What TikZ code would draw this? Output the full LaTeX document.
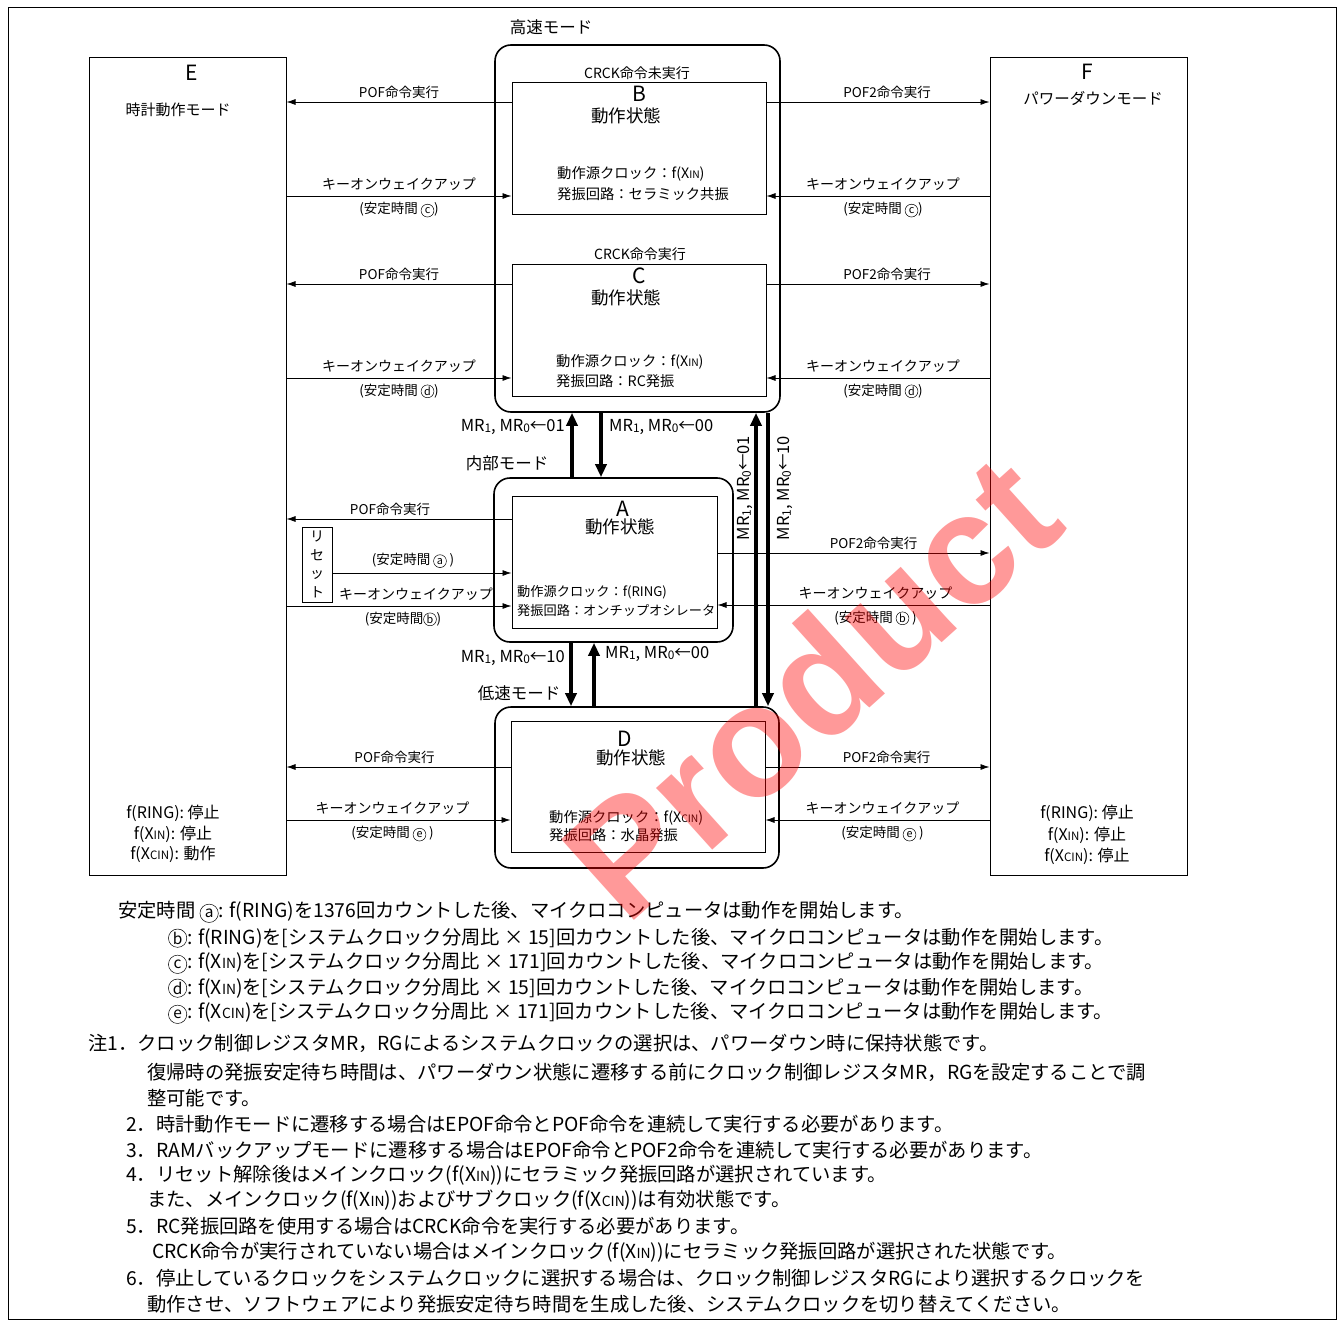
\documentclass[tikz,border=0pt]{standalone}
\usepackage{fontspec}
\setmainfont{Noto Sans CJK JP}
\newfontfamily\wmfont{Liberation Sans}
\usetikzlibrary{arrows.meta}

\newcommand\cir[1]{\tikz[baseline=(cc.base)]\node[draw, circle, line width=0.5pt,
  inner sep=0pt, minimum size=0.95em] (cc) {\scalebox{0.8}{#1}};}
\newcommand\smc[1]{\scalebox{0.72}{#1}}
\newcommand\subn[1]{\raisebox{-0.15ex}{\scalebox{0.72}{#1}}}
\newcommand\fsz[1]{\fontsize{#1}{#1}\selectfont}

\tikzset{
  statebox/.style={draw, line width=1pt, inner sep=0pt},
  modebox/.style={draw, line width=1.6pt, rounded corners=16pt, inner sep=0pt},
  thinarr/.style={-{Latex[length=9pt,width=6pt]}, line width=0.8pt},
  thickarr/.style={-{Triangle[length=13pt,width=11pt]}, line width=4.5pt},
  lbl/.style={font=\fsz{13.5}, inner sep=1pt},
  letter/.style={font=\fsz{21}, inner sep=0pt},
  headtxt/.style={font=\fsz{16.5}, inner sep=0pt},
  info/.style={font=\fsz{14.3}, inner sep=0pt, anchor=west},
  note/.style={font=\fsz{19.3}, inner sep=0pt, anchor=west},
}

\begin{document}
\begin{tikzpicture}[x=1pt, y=-1pt]
  \useasboundingbox (0,0) rectangle (1344,1327);
  \draw[line width=1pt] (8,8) rectangle (1336,1319);

  % Modi E und F
  \node[statebox, minimum width=197, minimum height=817] (E) at (187.5,466.5) {};
  \node[statebox, minimum width=197, minimum height=817] (F) at (1088.5,466.5) {};
  \node[letter] (Elbl) at (192,73) {E};
  \node[headtxt, font=\fsz{15}] (Etxt) at (178,110) {時計動作モード};
  \node[headtxt, align=center, font=\fontsize{16}{20.5}\selectfont] (Eclk) at (173,834)
    {f(RING): 停止\\f(X\smc{IN}): 停止\\f(X\smc{CIN}): 動作};
  \node[letter] (Flbl) at (1087,72) {F};
  \node[headtxt, font=\fsz{15.5}] (Ftxt) at (1093,98) {パワーダウンモード};
  \node[headtxt, align=center, font=\fontsize{16}{21.5}\selectfont] (Fclk) at (1087,835)
    {f(RING): 停止\\f(X\smc{IN}): 停止\\f(X\smc{CIN}): 停止};

  % Hochgeschwindigkeitsmodus
  \node[modebox, minimum width=285, minimum height=367] (HS) at (637.5,228.5) {};
  \node[headtxt] (HSlbl) at (551,27) {高速モード};
  \node[statebox, minimum width=254, minimum height=131] (B) at (639,148.5) {};
  \node[lbl, font=\fsz{14}] (Bcond) at (637,73) {CRCK命令未実行};
  \node[letter] (Blbl) at (639,94) {B};
  \node[headtxt, font=\fsz{17.5}] (Btxt) at (626,116) {動作状態};
  \node[info] (Bsrc) at (557,174) {動作源クロック：f(X\smc{IN})};
  \node[info] (Bosc) at (557,194) {発振回路：セラミック共振};

  \node[statebox, minimum width=254, minimum height=132] (C) at (639,330) {};
  \node[lbl, font=\fsz{14}] (Ccond) at (640,254) {CRCK命令実行};
  \node[letter] (Clbl) at (639,276) {C};
  \node[headtxt, font=\fsz{17.5}] (Ctxt) at (626,298) {動作状態};
  \node[info] (Csrc) at (556,362) {動作源クロック：f(X\smc{IN})};
  \node[info] (Cosc) at (556,381) {発振回路：RC発振};

  % interner Modus
  \node[modebox, minimum width=239, minimum height=164] (IM) at (613.5,560) {};
  \node[statebox, minimum width=205, minimum height=132] (A) at (614.5,562) {};
  \node[letter] (Albl) at (623,509) {A};
  \node[headtxt, font=\fsz{17.5}] (Atxt) at (620,527) {動作状態};
  \node[info, font=\fsz{13.2}] (Asrc) at (517,592) {動作源クロック：f(RING)};
  \node[info, font=\fsz{13.2}] (Aosc) at (517,611) {発振回路：オンチップオシレータ};
  \node[headtxt] (IMlbl) at (507,463) {内部モード};

  % Niedriggeschwindigkeitsmodus
  \node[modebox, minimum width=284, minimum height=161] (LS) at (637,787.5) {};
  \node[statebox, minimum width=254, minimum height=131] (D) at (638,786.5) {};
  \node[letter] (Dlbl) at (625,739) {D};
  \node[headtxt, font=\fsz{17.5}] (Dtxt) at (631,758) {動作状態};
  \node[info] (Dsrc) at (549,818) {動作源クロック：f(X\smc{CIN})};
  \node[info] (Dosc) at (549,835) {発振回路：水晶発振};
  \node[headtxt] (LSlbl) at (519,693) {低速モード};

  % Reset
  \node[statebox, minimum width=30, minimum height=75, align=center,
        font=\fontsize{14}{18.5}\selectfont] (RST) at (317,564.5) {リ\\セ\\ッ\\ト};

  % B <-> E, F
  \draw[thinarr] (B.west |- 0,102) -- (E.east |- 0,102)
    node[lbl, midway, above=2pt] {POF命令実行};
  \draw[thinarr] (E.east |- 0,196) -- (B.west |- 0,196)
    node[lbl, midway, above=4pt, font=\fsz{14}] {キーオンウェイクアップ}
    node[lbl, midway, below=5pt] {(安定時間 \cir{c})};
  \draw[thinarr] (B.east |- 0,102) -- (F.west |- 0,102)
    node[lbl, midway, above=2pt, xshift=9pt] {POF2命令実行};
  \draw[thinarr] (F.west |- 0,196) -- (B.east |- 0,196)
    node[lbl, midway, above=4pt, font=\fsz{14}, xshift=5pt] {キーオンウェイクアップ}
    node[lbl, midway, below=5pt, xshift=5pt] {(安定時間 \cir{c})};

  % C <-> E, F
  \draw[thinarr] (C.west |- 0,284) -- (E.east |- 0,284)
    node[lbl, midway, above=2pt] {POF命令実行};
  \draw[thinarr] (E.east |- 0,378) -- (C.west |- 0,378)
    node[lbl, midway, above=4pt, font=\fsz{14}] {キーオンウェイクアップ}
    node[lbl, midway, below=5pt] {(安定時間 \cir{d})};
  \draw[thinarr] (C.east |- 0,284) -- (F.west |- 0,284)
    node[lbl, midway, above=2pt, xshift=9pt] {POF2命令実行};
  \draw[thinarr] (F.west |- 0,378) -- (C.east |- 0,378)
    node[lbl, midway, above=4pt, font=\fsz{14}, xshift=5pt] {キーオンウェイクアップ}
    node[lbl, midway, below=5pt, xshift=5pt] {(安定時間 \cir{d})};

  % A <-> E, F
  \draw[thinarr] (A.west |- 0,519) -- (E.east |- 0,519)
    node[lbl, midway, above=2pt, xshift=-9pt] {POF命令実行};
  \draw[thinarr] (RST.east |- 0,573) -- (A.west |- 0,573)
    node[lbl, midway, above=4pt, xshift=-9pt] {(安定時間 \cir{a} )};
  \draw[thinarr] (E.east |- 0,606) -- (A.west |- 0,606)
    node[lbl, midway, above=4pt, font=\fsz{14}, xshift=17pt] {キーオンウェイクアップ}
    node[lbl, midway, below=5pt, xshift=4pt] {(安定時間\cir{b})};
  \draw[thinarr] (A.east |- 0,553) -- (F.west |- 0,553)
    node[lbl, midway, above=2pt, xshift=20pt] {POF2命令実行};
  \draw[thinarr] (F.west |- 0,605) -- (A.east |- 0,605)
    node[lbl, midway, above=4pt, font=\fsz{14}, xshift=22pt] {キーオンウェイクアップ}
    node[lbl, midway, below=5pt, xshift=22pt] {(安定時間 \cir{b} )};

  % D <-> E, F
  \draw[thinarr] (D.west |- 0,767) -- (E.east |- 0,767)
    node[lbl, midway, above=2pt, xshift=-4pt] {POF命令実行};
  \draw[thinarr] (E.east |- 0,820) -- (D.west |- 0,820)
    node[lbl, midway, above=4pt, font=\fsz{14}, xshift=-6pt] {キーオンウェイクアップ}
    node[lbl, midway, below=5pt, xshift=-6pt] {(安定時間 \cir{e} )};
  \draw[thinarr] (D.east |- 0,767) -- (F.west |- 0,767)
    node[lbl, midway, above=2pt, xshift=9pt] {POF2命令実行};
  \draw[thinarr] (F.west |- 0,820) -- (D.east |- 0,820)
    node[lbl, midway, above=4pt, font=\fsz{14}, xshift=5pt] {キーオンウェイクアップ}
    node[lbl, midway, below=5pt, xshift=5pt] {(安定時間 \cir{e} )};

  % Moduswechsel (dicke Pfeile)
  \draw[thickarr] (IM.north -| 572,0) -- (HS.south -| 572,0);
  \draw[thickarr] (HS.south -| 601,0) -- (IM.north -| 601,0);
  \draw[thickarr] (IM.south -| 571,0) -- (LS.north -| 571,0);
  \draw[thickarr] (LS.north -| 594,0) -- (IM.south -| 594,0);
  \draw[thickarr] (LS.north -| 756,0) -- (HS.south -| 756,0);
  \draw[thickarr] (HS.south -| 768,0) -- (LS.north -| 768,0);
  \node[headtxt, anchor=east] (m01) at (565,427) {MR\subn{1}, MR\subn{0}←01};
  \node[headtxt, anchor=west] (m00) at (609,427) {MR\subn{1}, MR\subn{0}←00};
  \node[headtxt, anchor=east] (m10) at (565,658) {MR\subn{1}, MR\subn{0}←10};
  \node[headtxt, anchor=west] (m00b) at (605,654) {MR\subn{1}, MR\subn{0}←00};
  \node[headtxt, rotate=90] (v01) at (745,488) {MR\subn{1}, MR\subn{0}←01};
  \node[headtxt, rotate=90] (v10) at (785,488) {MR\subn{1}, MR\subn{0}←10};

  % Anmerkungen
  \node[note] (n1) at (118,912) {安定時間 \cir{a}: f(RING)を1376回カウントした後、マイクロコンピュータは動作を開始します。};
  \node[note] (n2) at (168,938) {\cir{b}: f(RING)を[システムクロック分周比 × 15]回カウントした後、マイクロコンピュータは動作を開始します。};
  \node[note] (n3) at (168,963) {\cir{c}: f(X\smc{IN})を[システムクロック分周比 × 171]回カウントした後、マイクロコンピュータは動作を開始します。};
  \node[note] (n4) at (168,988) {\cir{d}: f(X\smc{IN})を[システムクロック分周比 × 15]回カウントした後、マイクロコンピュータは動作を開始します。};
  \node[note] (n5) at (168,1013) {\cir{e}: f(X\smc{CIN})を[システムクロック分周比 × 171]回カウントした後、マイクロコンピュータは動作を開始します。};
  \node[note] (c1) at (88,1043) {注1．クロック制御レジスタMR，RGによるシステムクロックの選択は、パワーダウン時に保持状態です。};
  \node[note] (c1b) at (147,1072) {復帰時の発振安定待ち時間は、パワーダウン状態に遷移する前にクロック制御レジスタMR，RGを設定することで調};
  \node[note] (c1c) at (147,1098) {整可能です。};
  \node[note] (c2) at (126,1124) {2．時計動作モードに遷移する場合はEPOF命令とPOF命令を連続して実行する必要があります。};
  \node[note] (c3) at (126,1150) {3．RAMバックアップモードに遷移する場合はEPOF命令とPOF2命令を連続して実行する必要があります。};
  \node[note] (c4) at (126,1175) {4．リセット解除後はメインクロック(f(X\smc{IN}))にセラミック発振回路が選択されています。};
  \node[note] (c4b) at (147,1200) {また、メインクロック(f(X\smc{IN}))およびサブクロック(f(X\smc{CIN}))は有効状態です。};
  \node[note] (c5) at (126,1226) {5．RC発振回路を使用する場合はCRCK命令を実行する必要があります。};
  \node[note] (c5b) at (152,1252) {CRCK命令が実行されていない場合はメインクロック(f(X\smc{IN}))にセラミック発振回路が選択された状態です。};
  \node[note] (c6) at (126,1278) {6．停止しているクロックをシステムクロックに選択する場合は、クロック制御レジスタRGにより選択するクロックを};
  \node[note] (c6b) at (147,1304) {動作させ、ソフトウェアにより発振安定待ち時間を生成した後、システムクロックを切り替えてください。};

  % Wasserzeichen
  \node[rotate=42, text=red, opacity=0.4, font=\wmfont\bfseries\fontsize{158}{158}\selectfont] (WM) at (810,686) {Product};
\end{tikzpicture}
\end{document}
